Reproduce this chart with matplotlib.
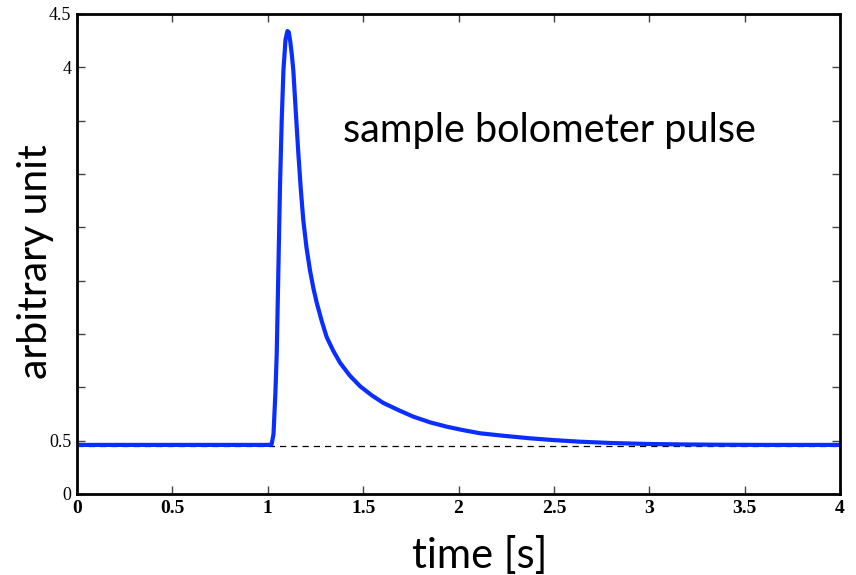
import matplotlib
matplotlib.use("Agg")
import matplotlib.pyplot as plt

# pulse samples
time_s = [0.0, 0.5, 1.0, 1.02, 1.03, 1.04, 1.047, 1.055, 1.064, 1.073, 1.082, 1.093,
          1.103, 1.110, 1.118, 1.126, 1.134, 1.147, 1.160, 1.173, 1.186, 1.203, 1.221,
          1.239, 1.257, 1.283, 1.309, 1.344, 1.379, 1.43, 1.484, 1.545, 1.606,
          1.693, 1.763, 1.85, 1.938, 2.02, 2.113, 2.24, 2.375, 2.5, 2.637, 2.8,
          2.987, 3.15, 3.334, 3.6, 3.8, 4.0]
signal = [0.46, 0.46, 0.46, 0.465, 0.56, 0.95, 1.32, 2.05, 2.88, 3.50, 3.97, 4.26,
          4.34, 4.33, 4.24, 4.12, 3.97, 3.58, 3.20, 2.86, 2.57, 2.31, 2.10,
          1.93, 1.79, 1.62, 1.47, 1.34, 1.23, 1.11, 1.01, 0.925, 0.853,
          0.78, 0.725, 0.672, 0.631, 0.60, 0.569, 0.545, 0.522, 0.505, 0.490, 0.478,
          0.469, 0.465, 0.462, 0.46, 0.46, 0.46]
baseline = 0.45

x_ticks = [0, 0.5, 1, 1.5, 2, 2.5, 3, 3.5, 4]
x_tick_labels = ['0', '0.5', '1', '1.5', '2', '2.5', '3', '3.5', '4']
y_ticks = [0, 0.5, 1, 1.5, 2, 2.5, 3, 3.5, 4, 4.5]
y_tick_labels = ['0', '0.5', '', '', '', '', '', '', '4', '4.5']

fig = plt.figure(figsize=(8.56, 5.75), dpi=100)
ax = fig.add_axes([0.09, 0.1409, 0.8913, 0.8348])

ax.axhline(baseline, color='black', lw=0.9, ls=(0, (5, 4)), zorder=1)
ax.plot(time_s, signal, color='#0a2eff', lw=3.0, zorder=2, solid_joinstyle='round')

ax.set_xlim(0, 4)
ax.set_ylim(0, 4.5)
ax.set_xticks(x_ticks)
ax.set_xticklabels(x_tick_labels, family='Liberation Serif', fontweight='bold', fontsize=14)
ax.set_yticks(y_ticks)
ax.set_yticklabels(y_tick_labels, family='Liberation Serif', fontsize=13)
ax.tick_params(direction='in', length=6, width=1.0, color='#444444',
               top=True, right=True, pad=4)
for s in ax.spines.values():
    s.set_linewidth(2.0)

ax.text(1.395, 3.41, 'sample bolometer pulse', family='Lato', fontsize=28.5,
        va='center', ha='left')

fig.text(480 / 856, 1 - 555 / 575, 'time [s]', family='Lato', fontsize=30,
         ha='center', va='center')
fig.text(36 / 856, 1 - 262 / 575, 'arbitrary unit', family='Lato', fontsize=29.5,
         ha='center', va='center', rotation=90)

fig.savefig('out.png', dpi=100)
